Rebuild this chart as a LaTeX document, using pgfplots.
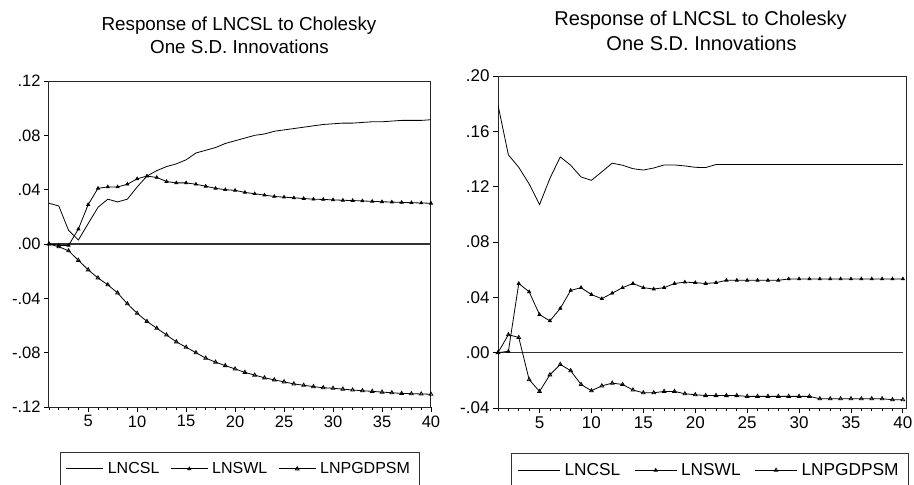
\documentclass[border=0pt]{standalone}
\usepackage{fontspec}
\setmainfont{Liberation Sans}
\usepackage{pgfplots}
\usepackage{pgfplotstable}
\pgfplotsset{compat=1.18}

\pgfplotstableread{
t csl swl pgd
1 0.030 0.000 0.000
2 0.028 -0.001 -0.002
3 0.010 -0.001 -0.005
4 0.003 0.011 -0.012
5 0.015 0.029 -0.019
6 0.027 0.041 -0.025
7 0.033 0.042 -0.030
8 0.031 0.042 -0.036
9 0.033 0.044 -0.044
10 0.042 0.048 -0.051
11 0.050 0.050 -0.057
12 0.054 0.049 -0.062
13 0.057 0.046 -0.067
14 0.059 0.045 -0.072
15 0.062 0.045 -0.076
16 0.067 0.044 -0.080
17 0.069 0.0425 -0.084
18 0.071 0.041 -0.087
19 0.074 0.040 -0.0895
20 0.076 0.0395 -0.092
21 0.078 0.038 -0.0945
22 0.080 0.037 -0.0965
23 0.081 0.036 -0.0985
24 0.083 0.035 -0.100
25 0.084 0.0345 -0.1015
26 0.085 0.034 -0.103
27 0.086 0.0335 -0.104
28 0.087 0.033 -0.105
29 0.088 0.0328 -0.1058
30 0.0885 0.0325 -0.1062
31 0.089 0.0322 -0.1068
32 0.089 0.032 -0.1075
33 0.0895 0.0317 -0.108
34 0.090 0.0314 -0.1085
35 0.090 0.0311 -0.109
36 0.0905 0.0309 -0.1095
37 0.091 0.0306 -0.110
38 0.091 0.0304 -0.1102
39 0.091 0.0302 -0.1104
40 0.0915 0.030 -0.1106
}\lefttab

\pgfplotstableread{
t csl swl pgd
1 0.179 0.000 0.000
2 0.143 0.001 0.013
3 0.134 0.050 0.011
4 0.122 0.044 -0.0195
5 0.107 0.0275 -0.028
6 0.126 0.023 -0.016
7 0.1415 0.032 -0.0085
8 0.1355 0.045 -0.013
9 0.127 0.047 -0.023
10 0.1246 0.042 -0.0275
11 0.1307 0.039 -0.024
12 0.137 0.043 -0.022
13 0.1355 0.047 -0.023
14 0.133 0.050 -0.027
15 0.132 0.047 -0.029
16 0.1335 0.046 -0.029
17 0.1357 0.047 -0.028
18 0.1357 0.050 -0.028
19 0.135 0.051 -0.0297
20 0.134 0.0506 -0.0304
21 0.1338 0.050 -0.031
22 0.136 0.0506 -0.031
23 0.136 0.0523 -0.031
24 0.136 0.0523 -0.031
25 0.136 0.0523 -0.0316
26 0.136 0.0523 -0.0316
27 0.136 0.0523 -0.0316
28 0.136 0.0523 -0.0316
29 0.136 0.0533 -0.0316
30 0.136 0.0533 -0.0316
31 0.136 0.0533 -0.0316
32 0.136 0.0533 -0.0333
33 0.136 0.0533 -0.0333
34 0.136 0.0533 -0.0333
35 0.136 0.0533 -0.0333
36 0.136 0.0533 -0.0333
37 0.136 0.0533 -0.0333
38 0.136 0.0533 -0.0333
39 0.136 0.0533 -0.034
40 0.136 0.0533 -0.034
}\righttab

\pgfplotsset{
  eviews/.style={
    scale only axis,
    axis line style={line width=1pt, black!85},
    tick pos=left,
    tick align=outside,
    major tick length=5pt,
    minor tick length=3pt,
    every tick/.style={black, line width=0.8pt},
    xtick={5,10,...,40},
    minor xtick={1,...,40},
    /pgf/number format/assume math mode=true,
    ticklabel style={font=\fontsize{16.5}{18}\selectfont},
    legend columns=3,
    legend cell align=left,
    legend style={draw=black!80, line width=1pt, anchor=north,
      font=\fontsize{16}{19}\selectfont,
      inner xsep=6pt, inner ysep=4pt,
      nodes={inner xsep=4pt, inner ysep=6pt},
      /tikz/every even column/.append style={column sep=7pt}},
    legend image code/.code={\draw[mark repeat=2,mark phase=2,#1] plot coordinates {(0pt,0pt)(18.5pt,0pt)(37pt,0pt)};},
  },
  csl/.style={black, line width=0.8pt, mark=none},
  swl/.style={black, line width=0.8pt, mark=triangle*, mark size=1.7pt, mark options={solid, fill=black}},
  pgd/.style={black, line width=0.8pt, mark=triangle, mark size=2.1pt, mark options={solid, fill=white}},
  zero/.style={black!80, line width=1.4pt, forget plot},
}

\begin{document}
\begin{tikzpicture}
\node[anchor=base, font=\fontsize{18.8}{22}\selectfont] at (239pt,-30pt) {Response of LNCSL to Cholesky};
\node[anchor=base, font=\fontsize{18.8}{22}\selectfont] at (239.5pt,-53pt) {One S.D. Innovations};
\node[anchor=base, font=\fontsize{20}{23}\selectfont] at (700.5pt,-25pt) {Response of LNCSL to Cholesky};
\node[anchor=base, font=\fontsize{20}{23}\selectfont] at (701.5pt,-50pt) {One S.D. Innovations};

\begin{axis}[eviews,
  at={(49pt,-407pt)}, anchor=south west,
  width=382pt, height=326pt,
  xmin=1, xmax=40, ymin=-0.12, ymax=0.12,
  ytick={-0.12,-0.08,-0.04,0,0.04,0.08,0.12},
  yticklabels={-.12,-.08,-.04,.00,.04,.08,.12},
  legend style={at={(0.5,-0.138)}},
]
\addplot[zero] coordinates {(1,0) (40,0)};
\addplot[csl] table[x=t, y=csl] {\lefttab};
\addplot[swl] table[x=t, y=swl] {\lefttab};
\addplot[pgd] table[x=t, y=pgd] {\lefttab};
\legend{LNCSL, LNSWL, LNPGDPSM}
\end{axis}

\begin{axis}[eviews,
  at={(498pt,-408pt)}, anchor=south west,
  width=408pt, height=332pt,
  xmin=1, xmax=40.3, ymin=-0.04, ymax=0.20,
  ytick={-0.04,0,0.04,0.08,0.12,0.16,0.20},
  yticklabels={-.04,.00,.04,.08,.12,.16,.20},
  ticklabel style={font=\fontsize{17}{19}\selectfont},
  legend style={at={(0.52,-0.1355)}, font=\fontsize{17.3}{20}\selectfont,
    /tikz/every even column/.append style={column sep=10pt}},
  legend image code/.code={\draw[mark repeat=2,mark phase=2,#1] plot coordinates {(0pt,0pt)(21pt,0pt)(42pt,0pt)};},
]
\addplot[zero] coordinates {(1,0) (40,0)};
\addplot[csl] table[x=t, y=csl] {\righttab};
\addplot[swl] table[x=t, y=swl] {\righttab};
\addplot[pgd] table[x=t, y=pgd] {\righttab};
\legend{LNCSL, LNSWL, LNPGDPSM}
\end{axis}

\pgfresetboundingbox
\path[use as bounding box] (0pt,0pt) rectangle (914pt,-485pt);
\end{tikzpicture}
\end{document}
